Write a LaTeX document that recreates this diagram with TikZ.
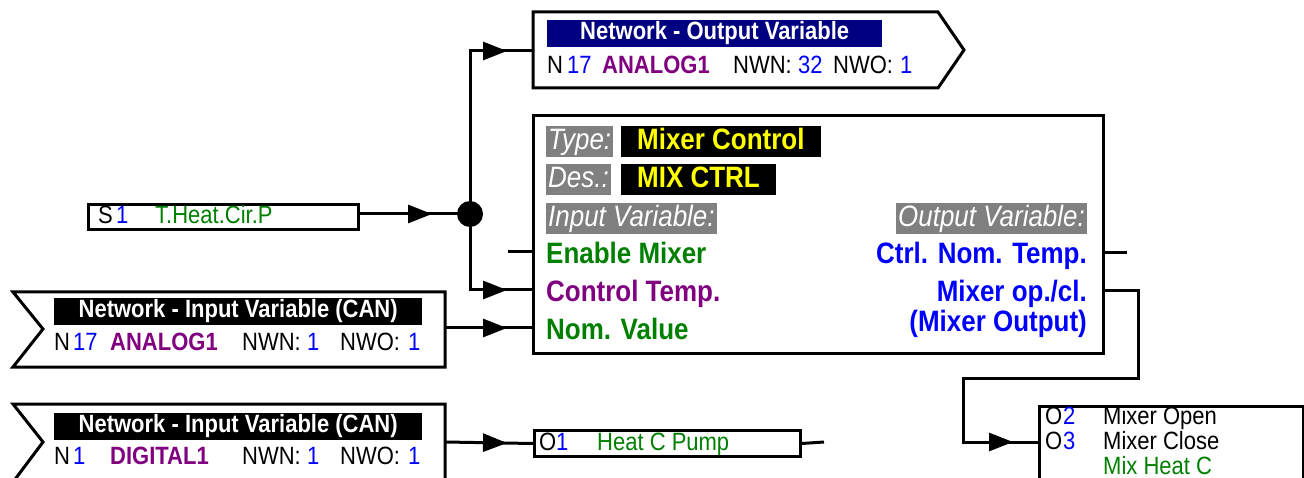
\documentclass[tikz,border=0pt]{standalone}
\usepackage{fontspec}
\setmainfont[FakeStretch=0.88]{Liberation Sans}
\usetikzlibrary{arrows.meta,decorations.markings}
\newcommand{\fsz}[1]{\fontsize{#1}{#1}\selectfont}
\definecolor{tgreen}{RGB}{0,128,0}
\definecolor{tblue}{RGB}{0,0,255}
\definecolor{tpurple}{RGB}{128,0,128}
\definecolor{tnavy}{RGB}{0,0,128}
\definecolor{tgray}{RGB}{128,128,128}
\definecolor{tyellow}{RGB}{255,255,0}
\begin{document}
\begin{tikzpicture}[x=1pt,y=-1pt,
  wire/.style={line width=3pt},
  tipat/.style={postaction={decorate},decoration={markings,mark=at position #1 with {\arrow{Triangle[length=24pt,width=18pt]}}}},
  box/.style={draw,line width=3pt,fill=white,inner sep=0pt,anchor=north west},
  outline/.style={draw,line width=3pt,fill=white},
  sm/.style={inner sep=0pt,anchor=base west,font=\fsz{25}},
  smb/.style={inner sep=0pt,anchor=base west,font=\fsz{25}\bfseries},
  head/.style={inner sep=0pt,anchor=north west,font=\fsz{25}\bfseries,text=white,text height=18pt,text depth=5.5pt},
  lbl/.style={inner sep=0pt,font=\fsz{29.5}\bfseries},
  graylbl/.style={fill=tgray,text=white,font=\fsz{29.5}\itshape,inner xsep=2pt,inner ysep=1.5pt,text height=21.5pt,text depth=6.5pt,anchor=north west},
  blacklbl/.style={fill=black,text=tyellow,font=\fsz{29.5}\bfseries,inner xsep=16pt,inner ysep=1.5pt,text height=21.5pt,text depth=6.5pt,anchor=north west},
  jdot/.style={circle,fill=black,inner sep=0pt,minimum size=26pt}]
\useasboundingbox (0,0) rectangle (1304,478);

% ---------- shapes ----------
% network output variable
\draw[outline] (533,12) -- (938,12) -- (964,50) -- (938,88) -- (533,88) -- cycle;
\coordinate (outvarL) at (533,51);
\node[head,fill=tnavy,minimum width=335pt,minimum height=27pt] (ohead) at (547,20) {Network - Output Variable};
\node[sm] (o1) at (547,74) {N};
\node[sm,text=tblue] (o2) at (567,74) {17};
\node[smb,text=tpurple] (o3) at (602,74) {ANALOG1};
\node[sm] (o4) at (733,74) {NWN:};
\node[sm,text=tblue] (o5) at (798,74) {32};
\node[sm] (o6) at (833,74) {NWO:};
\node[sm,text=tblue] (o7) at (900,74) {1};

% network input variable 1
\draw[outline] (13,292) -- (445,292) -- (445,367) -- (13,367) -- (43,329) -- cycle;
\coordinate (in1R) at (445,328);
\node[head,fill=black,minimum width=368pt,minimum height=27pt] (ahead) at (54,298) {Network - Input Variable (CAN)};
\node[sm] (a1) at (54,351) {N};
\node[sm,text=tblue] (a2) at (73,351) {17};
\node[smb,text=tpurple] (a3) at (110,351) {ANALOG1};
\node[sm] (a4) at (242,351) {NWN:};
\node[sm,text=tblue] (a5) at (307,351) {1};
\node[sm] (a6) at (340,351) {NWO:};
\node[sm,text=tblue] (a7) at (408,351) {1};

% network input variable 2
\draw[outline] (13,404) -- (445,404) -- (445,482) -- (13,482) -- (43,442) -- cycle;
\coordinate (in2R) at (445,442);
\node[head,fill=black,minimum width=368pt,minimum height=27pt] (bhead) at (54,413) {Network - Input Variable (CAN)};
\node[sm] (b1) at (54,464) {N};
\node[sm,text=tblue] (b2) at (73,464) {1};
\node[smb,text=tpurple] (b3) at (110,464) {DIGITAL1};
\node[sm] (b4) at (242,464) {NWN:};
\node[sm,text=tblue] (b5) at (307,464) {1};
\node[sm] (b6) at (340,464) {NWO:};
\node[sm,text=tblue] (b7) at (408,464) {1};

% sensor box
\node[box,minimum width=270pt,minimum height=25pt] (s1) at (87,203) {};
\node[sm] (s1a) at (98,224) {S};
\node[sm,text=tblue] (s1b) at (116,224) {1};
\node[sm,text=tgreen] (s1c) at (155,224) {T.Heat.Cir.P};

% heat C pump box
\node[box,minimum width=266pt,minimum height=26pt] (hp) at (533,429) {};
\node[sm] (hpa) at (539,450) {O};
\node[sm,text=tblue] (hpb) at (556,450) {1};
\node[sm,text=tgreen] (hpc) at (597,450) {Heat C Pump};

% mixer output box
\node[box,minimum width=264pt,minimum height=100pt] (mo) at (1038,405) {};
\node[sm] (moa) at (1045,424) {O};
\node[sm,text=tblue] (mob) at (1063,424) {2};
\node[sm] (moc) at (1103,424) {Mixer Open};
\node[sm] (mod) at (1045,449) {O};
\node[sm,text=tblue] (moe) at (1063,449) {3};
\node[sm] (mof) at (1103,449) {Mixer Close};
\node[sm,text=tgreen] (mog) at (1103,474) {Mix Heat C};

% main block
\node[box,minimum width=570pt,minimum height=238pt] (blk) at (532,114) {};
\node[graylbl] (ty) at (546,126) {Type:};
\node[blacklbl] (tyv) at (621,126) {Mixer Control};
\node[graylbl] (de) at (546,164) {Des.:};
\node[blacklbl] (dev) at (621,164) {MIX CTRL};
\node[graylbl] (iv) at (546,203) {Input Variable:};
\node[graylbl,anchor=north east] (ov) at (1087,203) {Output Variable:};
\node[lbl,anchor=base west,text=tgreen] (en) at (546,264) {Enable Mixer};
\node[lbl,anchor=base west,text=tpurple] (ct) at (546,302) {Control Temp.};
\node[lbl,anchor=base west,text=tgreen] (nv) at (546,340) {Nom. Value};
\node[lbl,anchor=base east,text=tblue] (cn) at (1087,264) {Ctrl. Nom. Temp.};
\node[lbl,anchor=base east,text=tblue] (mx) at (1087,302) {Mixer op./cl.};
\node[lbl,anchor=base east,text=tblue] (mxo) at (1087,331) {(Mixer Output)};

% ports
\coordinate (pEn) at (532,252);
\coordinate (pCt) at (532,290);
\coordinate (pNv) at (532,328);
\coordinate (pCn) at (1102,253);
\coordinate (pMx) at (1102,291);
\coordinate (enFree) at (508,252);
\coordinate (cnFree) at (1127,253);
\coordinate (hpFree) at (824,442);
\coordinate (j) at (470,214);
\coordinate (moIn) at (1038,442);

% ---------- connectors ----------
\draw[wire,tipat=-38pt] (s1.east |- j) -- (j);
\draw[wire,tipat=-26pt] (j) |- (outvarL);
\draw[wire,tipat=-25pt] (j) |- (pCt);
\draw[wire,tipat=-25pt] (in1R) -- (pNv);
\draw[wire] (enFree) -- (pEn);
\draw[wire,tipat=-26pt] (in2R) -- (hp.west);
\draw[wire] (hp.east) -- (hpFree);
\draw[wire] (pCn) -- (cnFree);
\draw[wire,tipat=-25pt] (pMx) -| (1138,378) -| (963,442) -- (moIn);
\node[jdot] (dot) at (j) {};
\end{tikzpicture}
\end{document}
